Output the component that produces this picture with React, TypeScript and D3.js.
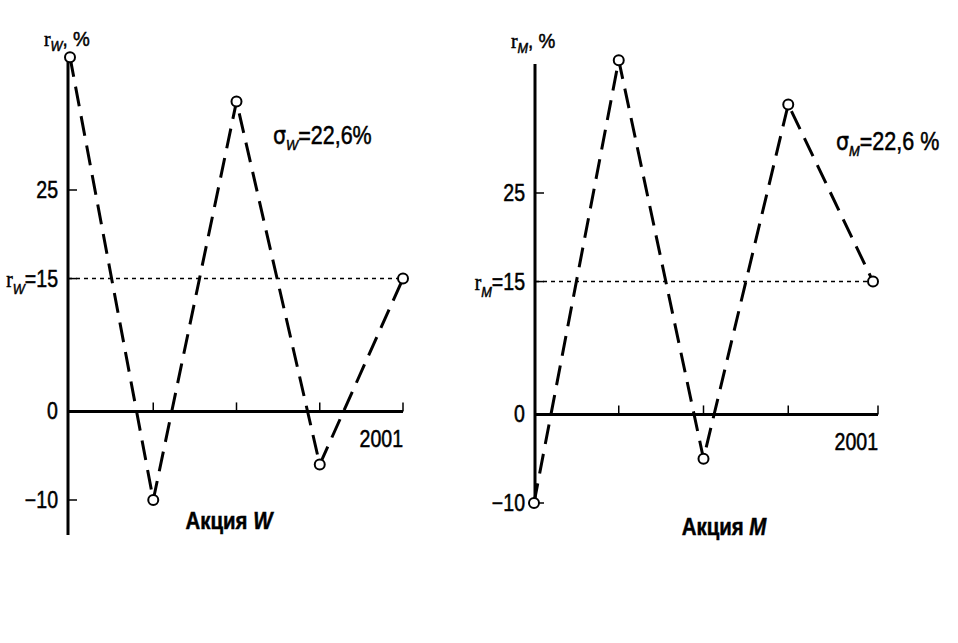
import React from "react";
import * as d3 from "d3";

const years = [1997, 1998, 1999, 2000, 2001];
const returnsW = [40, -10, 35, -6, 15];
const returnsM = [-10, 40, -5, 35, 15];
const yTicks = [25, 0, -10];
const meanReturn = 15;
const sigmaText = "22,6";

const font = "'Liberation Sans', Arial, sans-serif";

function NText(props: {
  x: number;
  y: number;
  sx?: number;
  anchor?: "start" | "middle" | "end";
  size: number;
  weight?: string;
  children: React.ReactNode;
}) {
  return (
    <g transform={`translate(${props.x},${props.y}) scale(${props.sx ?? 0.85},1)`}>
      <text
        x={0}
        y={0}
        textAnchor={props.anchor ?? "start"}
        fontSize={props.size}
        fontWeight={props.weight ?? "normal"}
        fontFamily={font}
        stroke="#000"
        strokeWidth={0.5}
      >
        {props.children}
      </text>
    </g>
  );
}

type PanelProps = {
  values: number[];
  letter: string;
  x0: number;
  x1: number;
  axisX: number;
  yTop: number;
  yBottom: number;
  axisTop: number;
  axisBottom: number;
  xAxisEnd: number;
  sigmaX: number;
  sigmaY: number;
  sigmaSuffix: string;
  titleX: number;
  titleY: number;
};

function Panel(p: PanelProps) {
  const x = d3.scalePoint<number>().domain(years).range([p.x0, p.x1]);
  const y = d3.scaleLinear().domain([-10, 25]).range([p.yBottom, p.yTop]);
  const line = d3
    .line<number>()
    .x((_, i) => x(years[i]) as number)
    .y((d) => y(d));
  const y0 = y(0);
  const ym = y(meanReturn);
  return (
    <g>
      <line x1={p.axisX} x2={p.axisX} y1={p.axisTop} y2={p.axisBottom} stroke="#000" strokeWidth={3} />
      <line x1={p.axisX} x2={p.xAxisEnd} y1={y0} y2={y0} stroke="#000" strokeWidth={3} />
      {years.slice(1).map((yr, i) => {
        const xx = i === years.length - 2 ? p.xAxisEnd : (x(yr) as number);
        return <line key={yr} x1={xx} x2={xx} y1={y0} y2={y0 - 9} stroke="#000" strokeWidth={1.5} />;
      })}
      {[25, meanReturn, -10].map((t) => (
        <line key={t} x1={p.axisX} x2={p.axisX + 9} y1={y(t)} y2={y(t)} stroke="#000" strokeWidth={1.5} />
      ))}
      {yTicks.map((t) => (
        <NText key={t} x={p.axisX - 10} y={y(t) + 8} anchor="end" size={23}>
          {t < 0 ? "\u2212" + Math.abs(t) : t}
        </NText>
      ))}
      <NText x={p.axisX - 10} y={ym + 8} anchor="end" size={23}>
        <tspan fontFamily="'Liberation Serif', serif">r</tspan>
        <tspan fontSize={15} fontStyle="italic" dy="7">{p.letter}</tspan>
        <tspan dy="-7">=15</tspan>
      </NText>
      <NText x={p.axisX - 24} y={p.axisTop - 16} size={22} sx={0.9}>
        <tspan fontFamily="'Liberation Serif', serif">r</tspan>
        <tspan fontSize={14} fontStyle="italic" dy="5">{p.letter}</tspan>
        <tspan dy="-5" fontSize={21}>, %</tspan>
      </NText>
      <line x1={p.axisX} x2={p.x1} y1={ym} y2={ym} stroke="#000" strokeWidth={1.5} strokeDasharray="4 4" />
      <path d={line(p.values) as string} fill="none" stroke="#000" strokeWidth={3} strokeDasharray="20 10" />
      {p.values.map((v, i) => (
        <circle key={i} cx={x(years[i]) as number} cy={y(v)} r={5} fill="#fff" stroke="#000" strokeWidth={2} />
      ))}
      <NText x={p.xAxisEnd} y={y0 + 36} anchor="end" size={23}>2001</NText>
      <NText x={p.sigmaX} y={p.sigmaY} size={25} sx={0.86}>
        <tspan fontFamily="'DejaVu Sans', sans-serif" fontSize={24}>σ</tspan>
        <tspan fontSize={15} fontStyle="italic" dy="6">{p.letter}</tspan>
        <tspan dy="-6">{"=" + sigmaText + p.sigmaSuffix}</tspan>
      </NText>
      <NText x={p.titleX} y={p.titleY} size={24} weight="bold" anchor="middle" sx={0.85}>
        {"Акция "}
        <tspan fontStyle="italic">{p.letter}</tspan>
      </NText>
    </g>
  );
}

export default function App() {
  return (
    <svg width={958} height={643} style={{ position: "absolute", left: 0, top: 0, background: "#fff" }}>
      <rect width={958} height={643} fill="#fff" />
      <Panel
        values={returnsW}
        letter="W"
        x0={70}
        x1={403}
        axisX={68}
        yTop={190}
        yBottom={500}
        axisTop={62}
        axisBottom={535}
        xAxisEnd={403}
        sigmaX={273}
        sigmaY={144}
        sigmaSuffix="%"
        titleX={229}
        titleY={529}
      />
      <Panel
        values={returnsM}
        letter="M"
        x0={534}
        x1={873}
        axisX={535}
        yTop={193}
        yBottom={503}
        axisTop={64}
        axisBottom={500}
        xAxisEnd={878}
        sigmaX={836}
        sigmaY={150}
        sigmaSuffix=" %"
        titleX={724}
        titleY={535}
      />
    </svg>
  );
}
